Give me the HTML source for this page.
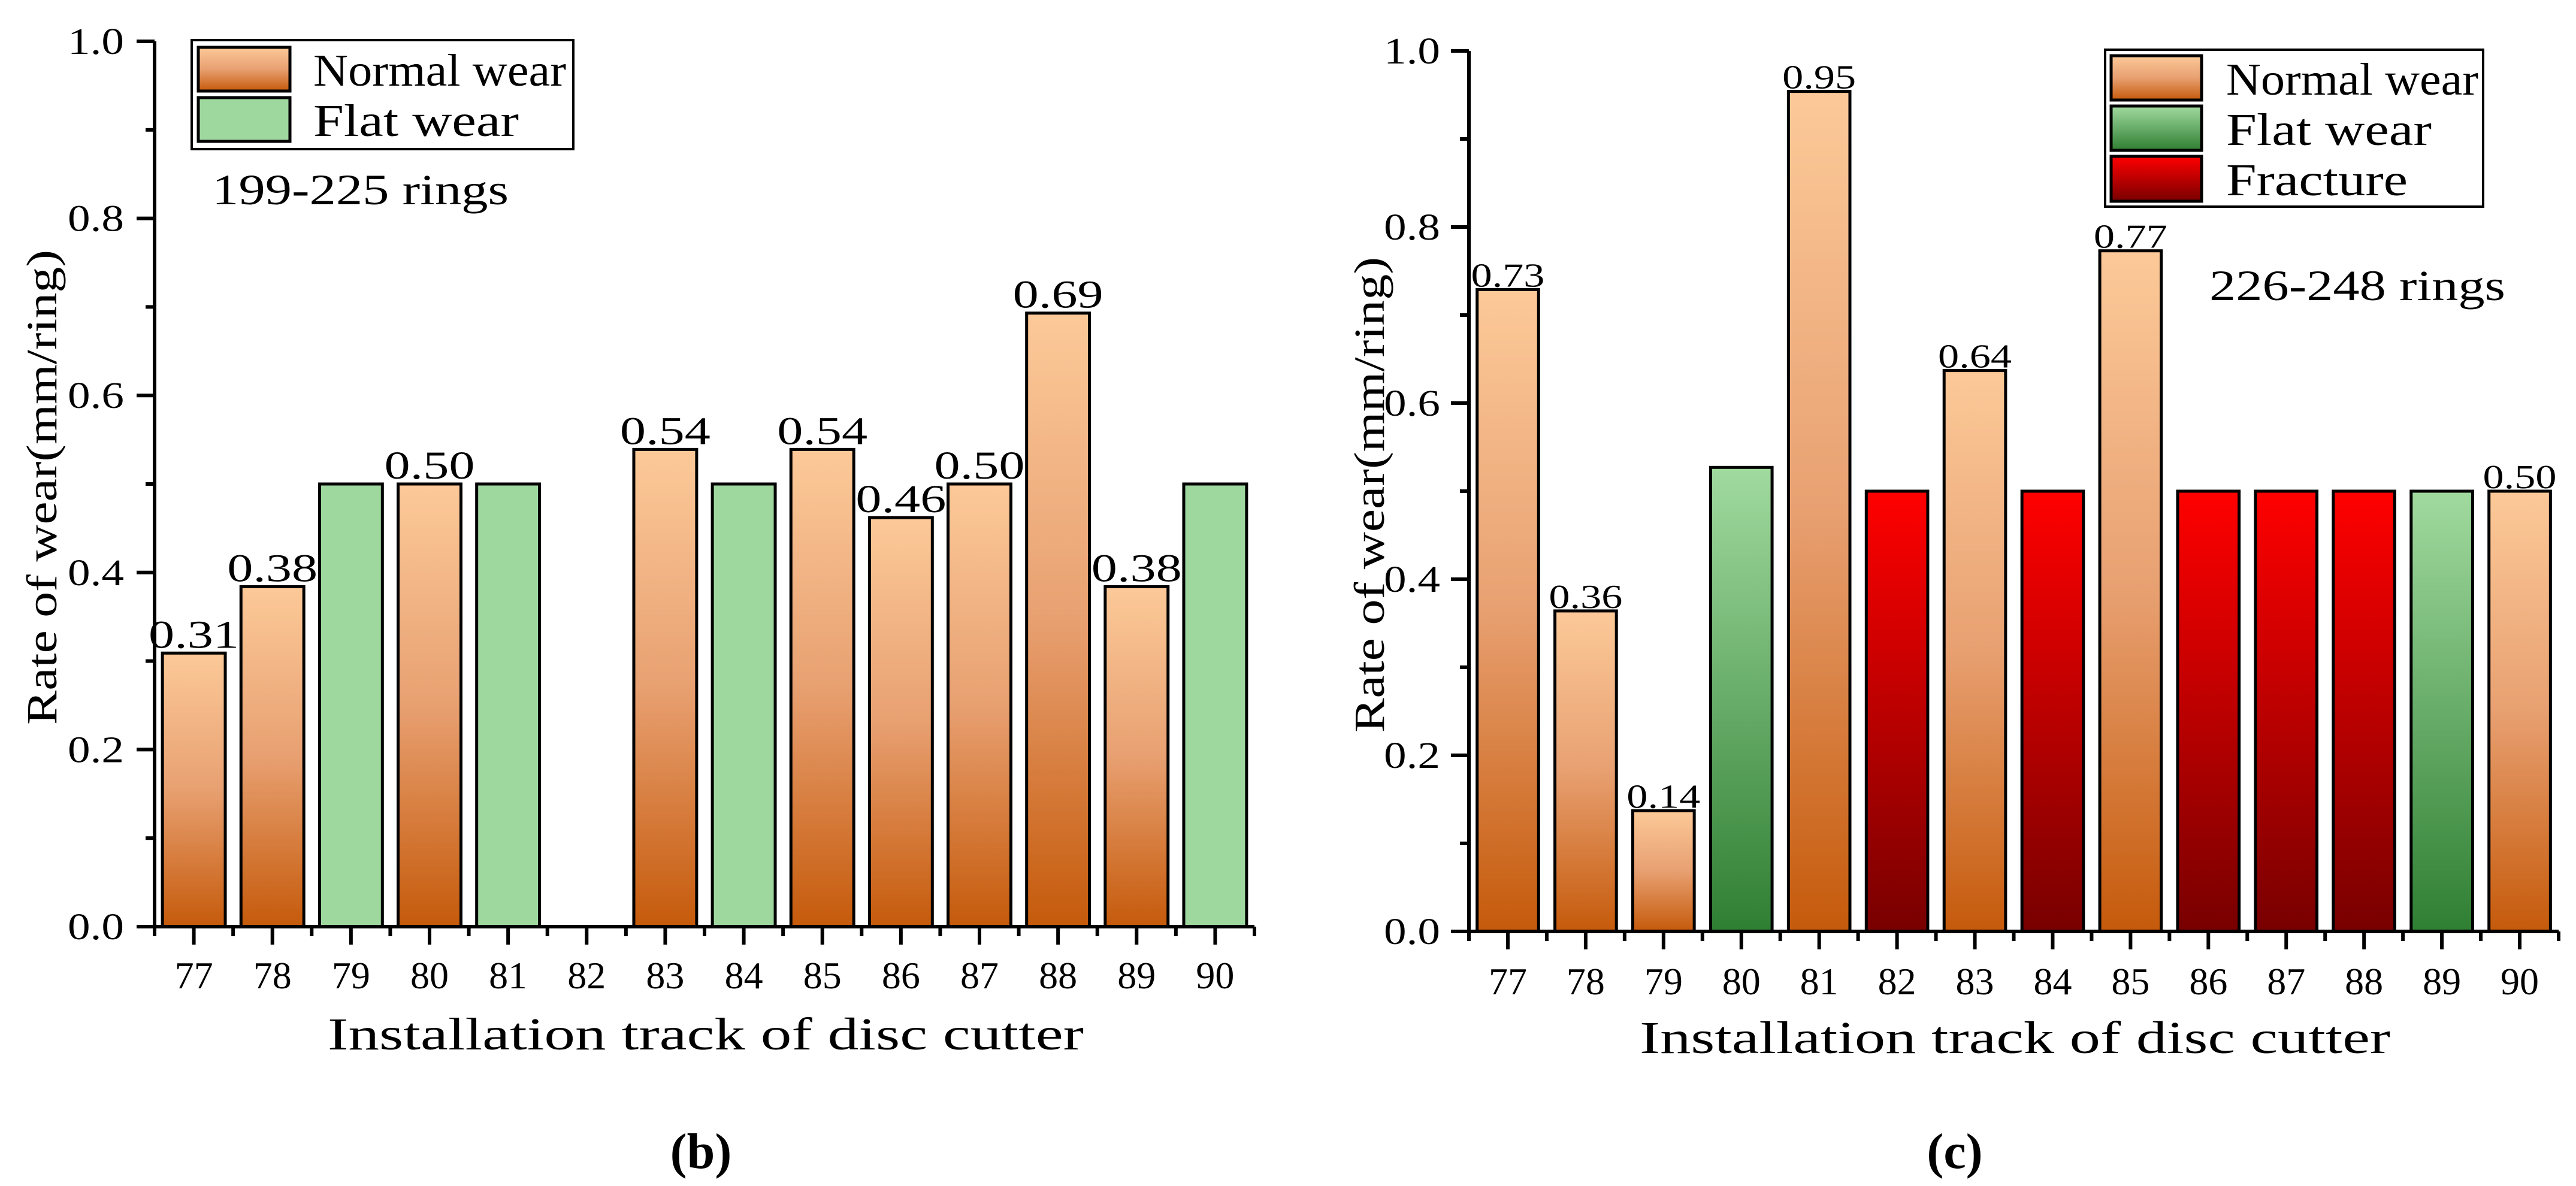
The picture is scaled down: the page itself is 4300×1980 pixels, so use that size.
<!DOCTYPE html>
<html><head><meta charset="utf-8"><style>
html,body{margin:0;padding:0;background:#fff;}
svg{display:block;}
text{font-family:"Liberation Serif","Noto Serif CJK SC",serif;fill:#000;}
</style></head><body>
<svg id="fig" width="4300" height="1980" viewBox="0 0 4300 1980" xmlns="http://www.w3.org/2000/svg">
<defs>
<linearGradient id="gN" x1="0" y1="0" x2="0" y2="1"><stop offset="0" stop-color="#FCC998"/><stop offset="0.5" stop-color="#E8A071"/><stop offset="1" stop-color="#C55A0B"/></linearGradient>
<linearGradient id="gF" x1="0" y1="0" x2="0" y2="1"><stop offset="0" stop-color="#A1DA9F"/><stop offset="1" stop-color="#2F7F33"/></linearGradient>
<linearGradient id="gR" x1="0" y1="0" x2="0" y2="1"><stop offset="0" stop-color="#FF0000"/><stop offset="1" stop-color="#780000"/></linearGradient>
</defs>
<g id="chartB"></g>
<g id="chartC"></g>
</svg>
<script>
const categories = [77,78,79,80,81,82,83,84,85,86,87,88,89,90];
const yTicks = [0,0.2,0.4,0.6,0.8,1.0];
const yTickLabels = ["0.0","0.2","0.4","0.6","0.8","1.0"];
// Chart (b): 199-225 rings
const valuesB = [0.309,0.384,0.50,0.50,0.50,0,0.539,0.50,0.539,0.462,0.50,0.693,0.384,0.50];
const typesB = ["N","N","F","N","F","-","N","F","N","N","N","N","N","F"];
const labelsB = ["0.31","0.38","","0.50","","","0.54","","0.54","0.46","0.50","0.69","0.38",""];
// Chart (c): 226-248 rings
const valuesC = [0.729,0.364,0.137,0.527,0.954,0.50,0.637,0.50,0.773,0.50,0.50,0.50,0.50,0.50];
const typesC = ["N","N","N","F","N","R","N","R","N","R","R","R","F","N"];
const labelsC = ["0.73","0.36","0.14","","0.95","","0.64","","0.77","","","","","0.50"];

const NS="http://www.w3.org/2000/svg";
function mk(parent, tag, attrs, txt){
  const e=document.createElementNS(NS,tag);
  for(const k in attrs) e.setAttribute(k,attrs[k]);
  if(txt!==undefined) e.textContent=txt;
  parent.appendChild(e); return e;
}
function draw(g, cfg, values, types, labels){
  const step=(cfg.x1-cfg.x0)/categories.length;
  const xs=i=>cfg.x0+(i+0.5)*step;
  const ys=v=>cfg.y0-(v)*(cfg.y0-cfg.y1);
  const bw=step*cfg.bwf;
  values.forEach((v,i)=>{
    if(types[i]==="-") return;
    const fill = types[i]==="N"?"url(#gN)":(types[i]==="R"?"url(#gR)":(cfg.flatSolid?"#9FD89F":"url(#gF)"));
    const r=mk(g,"rect",{x:xs(i)-bw/2,y:ys(v),width:bw,height:cfg.y0-ys(v),fill:fill,stroke:"#000","stroke-width":5});
    
    
    if(labels[i]){
      const t=mk(g,"text",{x:xs(i),y:ys(v)-cfg.lblGap,"text-anchor":"middle","font-size":cfg.lblFont,textLength:cfg.lblW,lengthAdjust:"spacingAndGlyphs"},labels[i]);
      
      
    }
  });
  const ax=mk(g,"line",{x1:cfg.x0,y1:cfg.y0,x2:cfg.x1,y2:cfg.y0,stroke:"#000","stroke-width":6});
  
  
  const ay=mk(g,"line",{x1:cfg.x0,y1:cfg.y1,x2:cfg.x0,y2:cfg.y0+3,stroke:"#000","stroke-width":6});
  
  
  categories.forEach((c,i)=>{
    mk(g,"line",{x1:xs(i),y1:cfg.y0,x2:xs(i),y2:cfg.y0+30,stroke:"#000","stroke-width":6});
    const t=mk(g,"text",{x:xs(i),y:cfg.xLblY,"text-anchor":"middle","font-size":64},String(c));
    
    
  });
  for(let i=0;i<=categories.length;i++){
    const x=cfg.x0+i*step;
    mk(g,"line",{x1:x,y1:cfg.y0,x2:x,y2:cfg.y0+16,stroke:"#000","stroke-width":6});
  }
  yTicks.forEach((v,i)=>{
    mk(g,"line",{x1:cfg.x0-30,y1:ys(v),x2:cfg.x0,y2:ys(v),stroke:"#000","stroke-width":6});
    const t=mk(g,"text",{x:cfg.yLblX,y:ys(v)+21,"text-anchor":"end","font-size":62,textLength:94,lengthAdjust:"spacingAndGlyphs"},yTickLabels[i]);
    
    
    if(i<yTicks.length-1){
      const m=(v+yTicks[i+1])/2;
      mk(g,"line",{x1:cfg.x0-15,y1:ys(m),x2:cfg.x0,y2:ys(m),stroke:"#000","stroke-width":6});
    }
  });
}
const gB=document.getElementById("chartB"), gC=document.getElementById("chartC");
draw(gB,{x0:258,x1:2094,y0:1547,y1:69,bwf:0.8,flatSolid:true,lblFont:66,lblW:151,lblGap:9,xLblY:1650,yLblX:207},valuesB,typesB,labelsB);
draw(gC,{x0:2452,x1:4271,y0:1555,y1:85,bwf:0.79,flatSolid:false,lblFont:56,lblW:123,lblGap:5,xLblY:1660,yLblX:2404},valuesC,typesC,labelsC);
</script>
<script>
(function(){
const svg=document.getElementById("fig");
const NS="http://www.w3.org/2000/svg";
function add(tag,attrs,txt,name){
  const e=document.createElementNS(NS,tag);
  for(const k in attrs) e.setAttribute(k,attrs[k]);
  if(txt!==undefined) e.textContent=txt;
  
  
  svg.appendChild(e); return e;
}
add("text",{x:547,y:1752,"font-size":76,textLength:1262,lengthAdjust:"spacingAndGlyphs"},"Installation track of disc cutter","x-axis-title-b");
add("text",{x:0,y:0,"font-size":72,textLength:793,lengthAdjust:"spacingAndGlyphs",transform:"translate(94,1210) rotate(-90)"},"Rate of wear(mm/ring)","y-axis-title-b");
add("rect",{x:320,y:67,width:637,height:182,fill:"#fff",stroke:"#000","stroke-width":4},undefined,"legend-box-b");
add("rect",{x:331,y:79,width:153,height:73,fill:"url(#gN)",stroke:"#000","stroke-width":5},undefined,"legend-swatch-normal-b");
add("rect",{x:331,y:163,width:153,height:73,fill:"#9FD89F",stroke:"#000","stroke-width":5},undefined,"legend-swatch-flat-b");
add("text",{x:523,y:143,"font-size":76,textLength:422,lengthAdjust:"spacingAndGlyphs"},"Normal wear","legend-label-normal-b");
add("text",{x:523,y:227,"font-size":76,textLength:343,lengthAdjust:"spacingAndGlyphs"},"Flat wear","legend-label-flat-b");
add("text",{x:354,y:341,"font-size":72,textLength:495,lengthAdjust:"spacingAndGlyphs"},"199-225 rings","annotation-rings-b");
add("text",{x:1170,y:1950,"font-size":84,"font-weight":"bold","text-anchor":"middle"},"(b)","panel-label-b");
add("text",{x:2737,y:1758,"font-size":76,textLength:1253,lengthAdjust:"spacingAndGlyphs"},"Installation track of disc cutter","x-axis-title-c");
add("text",{x:0,y:0,"font-size":72,textLength:794,lengthAdjust:"spacingAndGlyphs",transform:"translate(2310,1223) rotate(-90)"},"Rate of wear(mm/ring)","y-axis-title-c");
add("rect",{x:3514,y:83,width:631,height:262,fill:"#fff",stroke:"#000","stroke-width":4},undefined,"legend-box-c");
add("rect",{x:3524,y:93,width:151,height:74,fill:"url(#gN)",stroke:"#000","stroke-width":5},undefined,"legend-swatch-normal-c");
add("rect",{x:3524,y:177,width:151,height:74,fill:"url(#gF)",stroke:"#000","stroke-width":5},undefined,"legend-swatch-flat-c");
add("rect",{x:3524,y:261,width:151,height:75,fill:"url(#gR)",stroke:"#000","stroke-width":5},undefined,"legend-swatch-fracture-c");
add("text",{x:3716,y:158,"font-size":76,textLength:421,lengthAdjust:"spacingAndGlyphs"},"Normal wear","legend-label-normal-c");
add("text",{x:3716,y:242,"font-size":76,textLength:343,lengthAdjust:"spacingAndGlyphs"},"Flat wear","legend-label-flat-c");
add("text",{x:3716,y:326,"font-size":76,textLength:303,lengthAdjust:"spacingAndGlyphs"},"Fracture","legend-label-fracture-c");
add("text",{x:3688,y:501,"font-size":72,textLength:494,lengthAdjust:"spacingAndGlyphs"},"226-248 rings","annotation-rings-c");
add("text",{x:3263,y:1950,"font-size":84,"font-weight":"bold","text-anchor":"middle"},"(c)","panel-label-c");
})();
</script>
</body></html>
